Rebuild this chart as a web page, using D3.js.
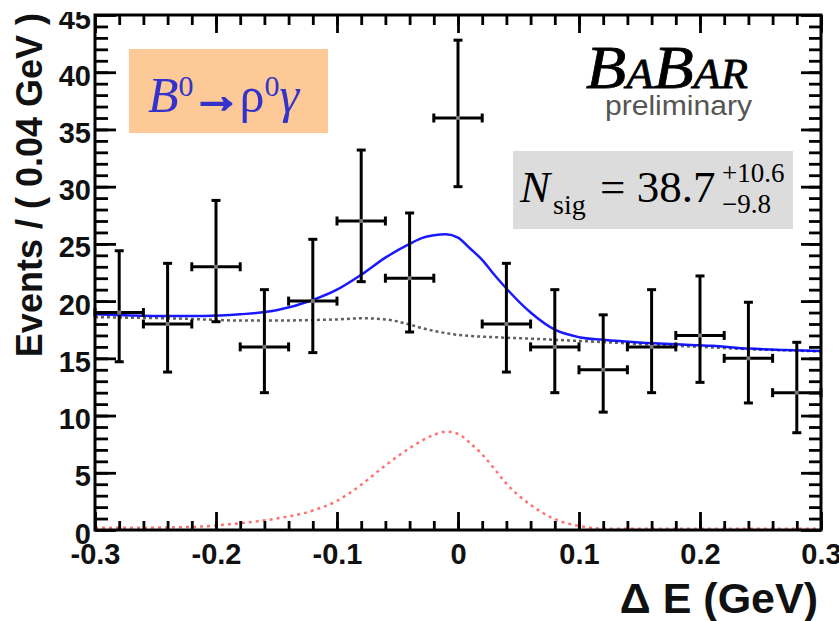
<!DOCTYPE html>
<html>
<head>
<meta charset="utf-8">
<script src="https://cdn.jsdelivr.net/npm/d3@7"></script>
<style>
  body { margin: 0; background: #fff; }
  svg { display: block; }
</style>
</head>
<body>
<div id="chart"></div>
<script>
// binned data, delta E (GeV)
var binCenters = [-0.28, -0.24, -0.20, -0.16, -0.12, -0.08, -0.04, 0.00, 0.04, 0.08, 0.12, 0.16, 0.20, 0.24, 0.28];
var counts     = [19, 18, 23, 16, 20, 27, 22, 36, 18, 16, 14, 16, 17, 15, 12];
var errLow     = [14.7, 13.8, 18.2, 12.0, 15.5, 21.7, 17.3, 30.0, 13.8, 12.0, 10.3, 12.0, 12.9, 11.1, 8.5];
var errHigh    = [24.4, 23.3, 28.8, 21.0, 25.4, 33.2, 27.7, 42.8, 23.3, 21.0, 18.8, 21.0, 22.2, 19.9, 16.4];
var binHalfWidth = 0.02;

// fitted curves
var fitX     = [-0.30, -0.27, -0.24, -0.21, -0.18, -0.15, -0.12, -0.10, -0.08, -0.06, -0.04, -0.03, -0.02, -0.01, 0.00, 0.01, 0.02, 0.03, 0.04, 0.06, 0.08, 0.10, 0.12, 0.15, 0.18, 0.21, 0.24, 0.27, 0.30];
var totalFit = [18.85, 18.75, 18.7, 18.7, 18.85, 19.2, 20.1, 21.0, 22.3, 23.8, 25.0, 25.5, 25.75, 25.85, 25.55, 24.6, 23.6, 22.3, 21.1, 19.0, 17.5, 16.85, 16.62, 16.38, 16.22, 16.1, 15.85, 15.72, 15.64];
var bkgFit   = [18.6, 18.55, 18.5, 18.4, 18.3, 18.3, 18.35, 18.4, 18.5, 18.4, 17.95, 17.65, 17.4, 17.2, 17.05, 16.95, 16.9, 16.85, 16.8, 16.72, 16.62, 16.52, 16.42, 16.25, 16.1, 15.95, 15.8, 15.7, 15.6];
var sigFit   = [0.2, 0.2, 0.22, 0.32, 0.6, 1.0, 1.7, 2.55, 3.95, 5.65, 7.15, 7.8, 8.3, 8.6, 8.4, 7.6, 6.6, 5.35, 4.05, 2.2, 0.95, 0.35, 0.12, 0.1, 0.1, 0.1, 0.1, 0.1, 0.1];

// axes
var xMajor = [-0.3, -0.2, -0.1, 0, 0.1, 0.2, 0.3];
var xMinor = d3.range(-0.28, 0.3, 0.02);
var yMajor = [0, 5, 10, 15, 20, 25, 30, 35, 40, 45];
var yMinor = d3.range(1, 45, 1);

function init() {
  var w = 839, h = 621;
  var left = 95, right = 821, top = 15, bottom = 530;

  var x = d3.scaleLinear().domain([-0.3, 0.3]).range([left, right]);
  var y = d3.scaleLinear().domain([0, 45]).range([bottom, top]);

  var svg = d3.select("#chart").append("svg")
      .attr("width", w).attr("height", h);

  var defs = svg.append("defs");
  defs.append("clipPath").attr("id", "plotclip")
    .append("rect").attr("x", left).attr("y", top).attr("width", right - left).attr("height", bottom - top + 3);
  defs.append("clipPath").attr("id", "topcut")
    .append("rect").attr("x", -300).attr("y", 12).attr("width", 1400).attr("height", h);

  // annotation boxes
  svg.append("rect").attr("x", 129).attr("y", 49).attr("width", 199).attr("height", 84)
      .attr("fill", "#fdca97");
  svg.append("rect").attr("x", 513).attr("y", 151).attr("width", 280).attr("height", 78)
      .attr("fill", "#dcdcdc");

  // curves
  var curves = svg.append("g").attr("clip-path", "url(#plotclip)");
  function lineFor(vals) {
    return d3.line()
      .x(function(d, i) { return x(fitX[i]); })
      .y(function(d) { return y(d); })
      .curve(d3.curveMonotoneX)(vals);
  }
  curves.append("path").attr("d", lineFor(sigFit))
      .attr("fill", "none").attr("stroke", "#ff4444").attr("stroke-width", 2.5)
      .attr("stroke-dasharray", "3,4").attr("opacity", 0.75);
  curves.append("path").attr("d", lineFor(bkgFit))
      .attr("fill", "none").attr("stroke", "#444").attr("stroke-width", 2.5)
      .attr("stroke-dasharray", "3,3").attr("opacity", 0.85);
  curves.append("path").attr("d", lineFor(totalFit))
      .attr("fill", "none").attr("stroke", "#0000ff").attr("stroke-width", 2.5)
      .attr("opacity", 0.9);

  // data points with error bars
  var pts = svg.selectAll("g.pt")
      .data(binCenters.map(function(c, i) {
        return { c: c, n: counts[i], lo: errLow[i], hi: errHigh[i] };
      }))
      .enter().append("g").attr("class", "pt")
      .attr("stroke", "#000").attr("stroke-width", 3);

  pts.append("line")
      .attr("x1", function(d) { return x(d.c); }).attr("x2", function(d) { return x(d.c); })
      .attr("y1", function(d) { return y(d.lo); }).attr("y2", function(d) { return y(d.hi); });
  pts.append("line")
      .attr("x1", function(d) { return x(d.c - binHalfWidth); }).attr("x2", function(d) { return x(d.c + binHalfWidth); })
      .attr("y1", function(d) { return y(d.n); }).attr("y2", function(d) { return y(d.n); });
  // caps
  ["lo", "hi"].forEach(function(k) {
    pts.append("line")
        .attr("x1", function(d) { return x(d.c) - 4.5; }).attr("x2", function(d) { return x(d.c) + 4.5; })
        .attr("y1", function(d) { return y(d[k]); }).attr("y2", function(d) { return y(d[k]); });
  });
  [-1, 1].forEach(function(s) {
    pts.append("line")
        .attr("x1", function(d) { return x(d.c + s * binHalfWidth); }).attr("x2", function(d) { return x(d.c + s * binHalfWidth); })
        .attr("y1", function(d) { return y(d.n) - 4.5; }).attr("y2", function(d) { return y(d.n) + 4.5; });
  });
  pts.append("rect")
      .attr("x", function(d) { return x(d.c) - 2; }).attr("y", function(d) { return y(d.n) - 2; })
      .attr("width", 4).attr("height", 4)
      .attr("fill", "#777").attr("stroke", "none");

  // frame + ticks
  var fmt = function(d) { return d === 0 ? "0" : d.toFixed(1); };
  function styleAxis(g) {
    g.select(".domain").remove();
    g.selectAll(".tick line").attr("stroke", "#000").attr("stroke-width", 2.8);
    g.selectAll("text").attr("font-family", "Liberation Sans, Arial, sans-serif")
        .attr("font-weight", "bold").attr("font-size", 29).attr("fill", "#111");
  }
  svg.append("g").attr("transform", "translate(0," + bottom + ")")
      .call(d3.axisBottom(x).tickValues(xMinor).tickSize(-9).tickFormat(""))
      .call(styleAxis);
  svg.append("g").attr("transform", "translate(0," + bottom + ")")
      .call(d3.axisBottom(x).tickValues(xMajor).tickSize(-18).tickPadding(13).tickFormat(fmt))
      .call(styleAxis);
  svg.append("g").attr("transform", "translate(0," + top + ")")
      .call(d3.axisTop(x).tickValues(xMinor).tickSize(-10).tickFormat(""))
      .call(styleAxis);
  svg.append("g").attr("transform", "translate(0," + top + ")")
      .call(d3.axisTop(x).tickValues(xMajor).tickSize(-18).tickFormat(""))
      .call(styleAxis);

  svg.append("g").attr("transform", "translate(" + left + ",0)")
      .call(d3.axisLeft(y).tickValues(yMinor).tickSize(-13).tickFormat(""))
      .call(styleAxis);
  var yl = svg.append("g").attr("transform", "translate(" + left + ",0)")
      .attr("clip-path", "url(#topcut)")
      .call(d3.axisLeft(y).tickValues(yMajor).tickSize(-21).tickPadding(4))
      .call(styleAxis);
  yl.selectAll("text").attr("dy", "0.45em");
  svg.append("g").attr("transform", "translate(" + right + ",0)")
      .call(d3.axisRight(y).tickValues(yMinor).tickSize(-12).tickFormat(""))
      .call(styleAxis);
  svg.append("g").attr("transform", "translate(" + right + ",0)")
      .call(d3.axisRight(y).tickValues(yMajor).tickSize(-20).tickFormat(""))
      .call(styleAxis);

  svg.append("rect").attr("x", left).attr("y", top)
      .attr("width", right - left).attr("height", bottom - top)
      .attr("fill", "none").attr("stroke", "#000").attr("stroke-width", 3);

  // axis titles
  svg.append("g").attr("clip-path", "url(#topcut)")
    .append("text")
      .attr("transform", "translate(42,13) rotate(-90)")
      .attr("text-anchor", "end")
      .attr("font-family", "Liberation Sans, Arial, sans-serif").attr("font-weight", "bold")
      .attr("font-size", 36).attr("fill", "#111")
      .text("Events / ( 0.04 GeV )");
  svg.append("text")
      .attr("x", 818).attr("y", 613)
      .attr("text-anchor", "end")
      .attr("font-family", "Liberation Sans, Arial, sans-serif").attr("font-weight", "bold")
      .attr("font-size", 43).attr("fill", "#111")
      .text("\u0394 E (GeV)");

  // decay label
  var dl = svg.append("text").attr("x", 148).attr("y", 112)
      .attr("font-family", "Liberation Serif, Times New Roman, serif")
      .attr("font-size", 50).attr("fill", "#3333cc");
  dl.append("tspan").attr("font-style", "italic").text("B");
  dl.append("tspan").attr("font-size", 30).attr("dy", -16).text("0");
  dl.append("tspan").attr("dy", 16).attr("dx", -2).attr("font-weight", "bold").attr("font-size", 50)
      .attr("stroke", "#3333cc").attr("stroke-width", 2.2).text("\u2192");
  dl.append("tspan").attr("dx", -2).text("\u03c1");
  dl.append("tspan").attr("font-size", 30).attr("dy", -16).text("0");
  dl.append("tspan").attr("dy", 16).attr("font-style", "italic").text("\u03b3");

  // BaBar logo
  var logo = svg.append("text").attr("x", 586).attr("y", 88)
      .attr("font-family", "Liberation Serif, Times New Roman, serif")
      .attr("font-style", "italic").attr("fill", "#000")
      .attr("stroke", "#000").attr("stroke-width", 0.8)
      .attr("textLength", 162).attr("lengthAdjust", "spacingAndGlyphs");
  logo.append("tspan").attr("font-size", 62).text("B");
  logo.append("tspan").attr("font-size", 42).text("A");
  logo.append("tspan").attr("font-size", 62).text("B");
  logo.append("tspan").attr("font-size", 42).text("AR");
  svg.append("text").attr("x", 605).attr("y", 115)
      .attr("font-family", "Liberation Sans, Arial, sans-serif")
      .attr("font-size", 27).attr("fill", "#555")
      .attr("textLength", 147).attr("lengthAdjust", "spacingAndGlyphs")
      .text("preliminary");

  // signal yield
  var serif = "Liberation Serif, Times New Roman, serif";
  svg.append("text").attr("x", 520).attr("y", 202).attr("font-family", serif)
      .attr("font-size", 45).attr("font-style", "italic").text("N");
  svg.append("text").attr("x", 553).attr("y", 214).attr("font-family", serif)
      .attr("font-size", 28).text("sig");
  svg.append("text").attr("x", 600).attr("y", 202).attr("font-family", serif)
      .attr("font-size", 45).text("= 38.7");
  svg.append("text").attr("x", 722).attr("y", 182).attr("font-family", serif)
      .attr("font-size", 27).text("+10.6");
  svg.append("text").attr("x", 722).attr("y", 213).attr("font-family", serif)
      .attr("font-size", 27).text("\u22129.8");
}

window.onload = init;
</script>
</body>
</html>
